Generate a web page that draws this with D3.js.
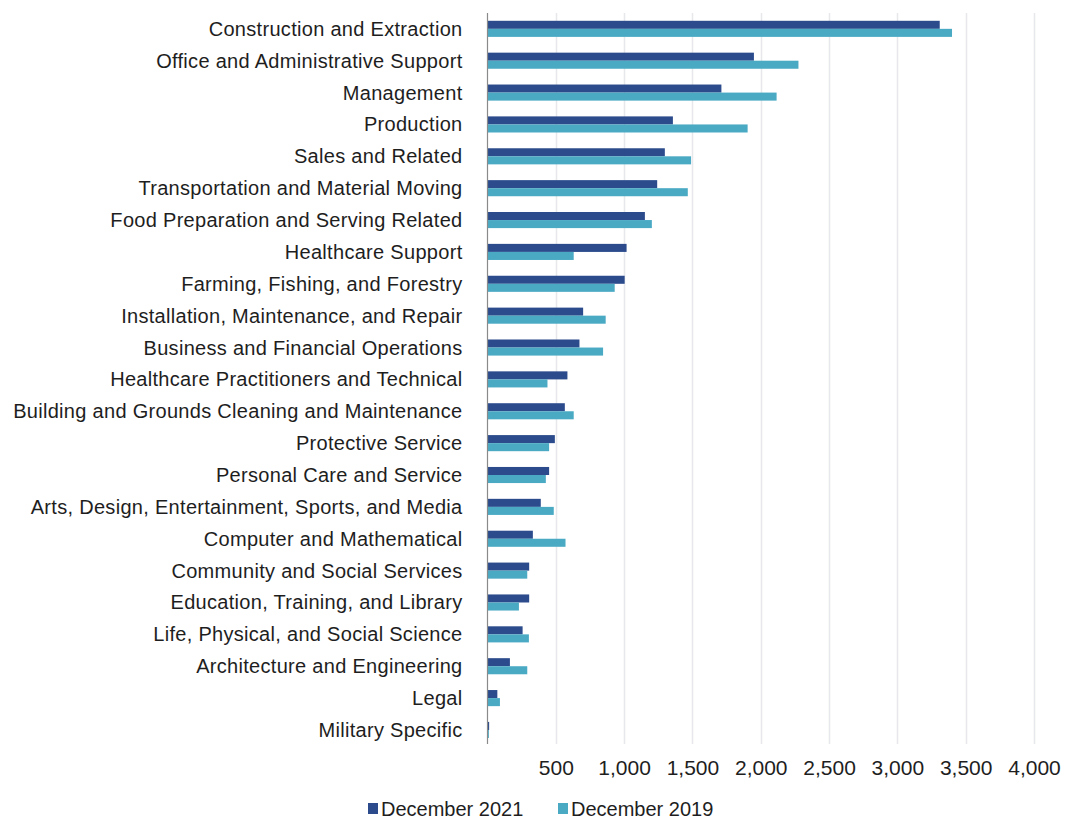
<!DOCTYPE html>
<html>
<head>
<meta charset="utf-8">
<script src="https://cdn.jsdelivr.net/npm/d3@7"></script>
<style>
  html, body { margin: 0; padding: 0; background: #ffffff; }
  svg { display: block; }
  text { font-family: "Liberation Sans", Arial, sans-serif; fill: #1e1e1e; }
</style>
</head>
<body>
<svg id="chart" width="1065" height="821"></svg>
<script>
// Occupation groups, top to bottom
const categories = [
  "Construction and Extraction",
  "Office and Administrative Support",
  "Management",
  "Production",
  "Sales and Related",
  "Transportation and Material Moving",
  "Food Preparation and Serving Related",
  "Healthcare Support",
  "Farming, Fishing, and Forestry",
  "Installation, Maintenance, and Repair",
  "Business and Financial Operations",
  "Healthcare Practitioners and Technical",
  "Building and Grounds Cleaning and Maintenance",
  "Protective Service",
  "Personal Care and Service",
  "Arts, Design, Entertainment, Sports, and Media",
  "Computer and Mathematical",
  "Community and Social Services",
  "Education, Training, and Library",
  "Life, Physical, and Social Science",
  "Architecture and Engineering",
  "Legal",
  "Military Specific"
];

const seriesNames = ["December 2021", "December 2019"];

const dec2021 = [3310, 1950, 1712, 1357, 1298, 1242, 1152, 1018, 1004, 700, 673,
                 585, 566, 493, 451, 390, 332, 305, 305, 257, 164, 72, 12];
const dec2019 = [3400, 2276, 2116, 1904, 1490, 1466, 1203, 631, 931, 865, 846,
                 439, 631, 451, 427, 485, 571, 291, 230, 303, 291, 91, 10];

const tickValues = [500, 1000, 1500, 2000, 2500, 3000, 3500, 4000];

const colors = ["#2b4b8c", "#4aaac4"];

const svg = d3.select("#chart");

const x = d3.scaleLinear().domain([0, 4000]).range([487.5, 1034]);
const y = d3.scaleBand().domain(categories).range([12.9, 745.9])
  .paddingInner(0.495).paddingOuter(0.2475);
const ySub = d3.scaleBand().domain(seriesNames).range([0, y.bandwidth()]);

const rows = categories.map((c, i) => ({ cat: c, values: [dec2021[i], dec2019[i]] }));

// vertical gridlines
svg.append("g")
  .selectAll("line")
  .data(tickValues)
  .join("line")
  .attr("x1", d => Math.round(x(d)) + 0.5)
  .attr("x2", d => Math.round(x(d)) + 0.5)
  .attr("y1", 13)
  .attr("y2", 744)
  .attr("stroke", "#e6e8ec")
  .attr("stroke-width", 1.5);

// bars
const groups = svg.append("g")
  .selectAll("g")
  .data(rows)
  .join("g")
  .attr("transform", d => `translate(0,${y(d.cat)})`);

groups.selectAll("rect")
  .data(d => d.values.map((v, k) => ({ key: seriesNames[k], value: v, k })))
  .join("rect")
  .attr("x", x(0))
  .attr("y", d => ySub(d.key))
  .attr("width", d => x(d.value) - x(0))
  .attr("height", ySub.bandwidth())
  .attr("fill", d => colors[d.k]);

// category axis
const yAxis = svg.append("g")
  .attr("transform", `translate(${x(0)},0)`)
  .call(d3.axisLeft(y).tickSize(0).tickPadding(25));
yAxis.select(".domain").attr("stroke", "#8a8a8a").attr("stroke-width", 1.2)
  .attr("d", "M0,13V744");
yAxis.selectAll("text")
  .style("font-size", "20px")
  .style("letter-spacing", "0.3px")
  .attr("fill", "#1e1e1e")
  .attr("dy", "0.35em");

// value axis labels
const xAxis = svg.append("g")
  .attr("transform", "translate(0,752)")
  .call(d3.axisBottom(x).tickValues(tickValues).tickSize(0).tickPadding(8)
    .tickFormat(d3.format(",")));
xAxis.select(".domain").remove();
xAxis.selectAll("text")
  .style("font-size", "21px")
  .attr("fill", "#1e1e1e");

// legend
const legendItems = [
  { name: seriesNames[0], color: colors[0], sx: 368, tx: 381 },
  { name: seriesNames[1], color: colors[1], sx: 558, tx: 571 }
];
const legend = svg.append("g");
legend.selectAll("rect")
  .data(legendItems)
  .join("rect")
  .attr("x", d => d.sx)
  .attr("y", 803)
  .attr("width", 10)
  .attr("height", 11)
  .attr("fill", d => d.color);
legend.selectAll("text")
  .data(legendItems)
  .join("text")
  .attr("x", d => d.tx)
  .attr("y", 816)
  .style("font-size", "20px")
  .text(d => d.name);
</script>
</body>
</html>
